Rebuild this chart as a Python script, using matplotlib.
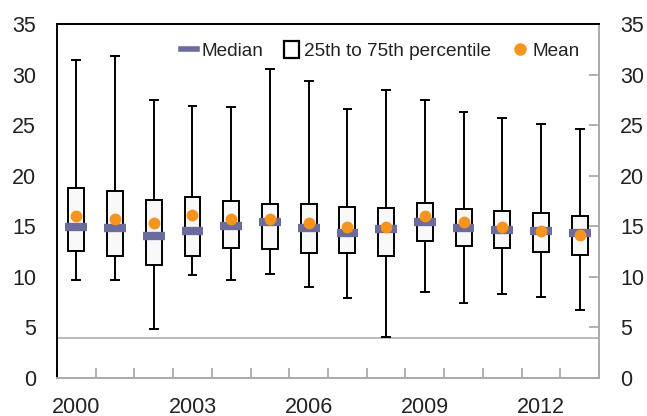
import matplotlib
matplotlib.use("Agg")
import matplotlib.pyplot as plt
from matplotlib.lines import Line2D
from matplotlib.patches import Patch
import numpy as np

plt.rcParams['font.family'] = ['Liberation Sans', 'DejaVu Sans']

years = list(range(2000, 2014))
whisker_max = [31.4, 31.8, 27.5, 26.9, 26.8, 30.6, 29.4, 26.6, 28.5, 27.5, 26.3, 25.7, 25.1, 24.6]
q3 = [18.8, 18.5, 17.6, 17.9, 17.5, 17.2, 17.2, 16.9, 16.8, 17.3, 16.7, 16.5, 16.3, 16.0]
median = [14.9, 14.8, 14.0, 14.5, 15.0, 15.4, 14.8, 14.3, 14.7, 15.4, 14.8, 14.6, 14.5, 14.3]
q1 = [12.6, 12.1, 11.2, 12.1, 12.9, 12.8, 12.4, 12.4, 12.1, 13.5, 13.1, 12.9, 12.5, 12.2]
whisker_min = [9.7, 9.7, 4.8, 10.2, 9.7, 10.3, 9.0, 7.9, 4.1, 8.5, 7.4, 8.3, 8.0, 6.7]
mean = [16.0, 15.7, 15.3, 16.1, 15.7, 15.7, 15.3, 14.9, 14.9, 16.0, 15.4, 14.9, 14.5, 14.1]
threshold = 4
label_years = [2000, 2003, 2006, 2009, 2012]

median_color = '#6B6B9E'
mean_color = '#F7941D'

fig = plt.figure(figsize=(6.47, 4.16), dpi=100)
ax = fig.add_axes([0.088, 0.0913, 0.838, 0.851])

pos = np.arange(len(years))
stats = []
for i in range(len(years)):
    stats.append(dict(med=median[i], q1=q1[i], q3=q3[i],
                      whislo=whisker_min[i], whishi=whisker_max[i], fliers=[]))

ax.bxp(stats, positions=pos, widths=0.41, showfliers=False, patch_artist=True,
       boxprops=dict(facecolor='#F9F9F9', edgecolor='black', linewidth=1.4),
       whiskerprops=dict(color='black', linewidth=1.4),
       capprops=dict(color='black', linewidth=1.4),
       medianprops=dict(linewidth=0), capwidths=0.2, zorder=3)

ax.hlines(median, pos - 0.28, pos + 0.28, colors=median_color, linewidth=6, zorder=4)
ax.plot(pos, mean, linestyle='none', marker='o', markersize=7.5,
        color=mean_color, zorder=5)

ax.axhline(threshold, color='#B5B5B5', linewidth=1.3, zorder=1)

ax.set_xlim(-0.5, len(years) - 0.5)
ax.set_ylim(0, 35)
ax.set_yticks(np.arange(0, 36, 5))
ax.set_xticks([years.index(y) for y in label_years])
ax.set_xticklabels([str(y) for y in label_years])
ax.set_xticks(np.arange(-0.5, len(years), 1), minor=True)

ax.tick_params(axis='x', which='major', length=0, pad=14, labelsize=15.5, labelcolor='#222222')
ax.tick_params(axis='x', which='minor', direction='in', length=7, color='#AAAAAA', width=1.3)
ax.tick_params(axis='y', which='major', left=False, right=True, labelleft=True, labelright=True,
               direction='in', length=7, color='#AAAAAA', width=1.3, pad=15,
               labelsize=15.5, labelcolor='#222222')

ax.spines['left'].set_color('black')
ax.spines['top'].set_color('black')
ax.spines['bottom'].set_color('#AAAAAA')
ax.spines['right'].set_color('#AAAAAA')
for s in ax.spines.values():
    s.set_linewidth(1.4)

handles = [
    Line2D([0], [0], color=median_color, linewidth=4),
    Patch(facecolor='white', edgecolor='black', linewidth=1.6),
    Line2D([0], [0], color=mean_color, marker='o', linestyle='none', markersize=8),
]
labels = ['Median', '25th to 75th percentile', 'Mean']
ax.legend(handles, labels, loc='upper right', ncol=3, frameon=False, fontsize=13.7,
          handlelength=0.8, handleheight=1.0, handletextpad=0.25, columnspacing=1.1,
          bbox_to_anchor=(0.995, 1.0), labelcolor='#222222')

fig.savefig('out.png', dpi=100)
